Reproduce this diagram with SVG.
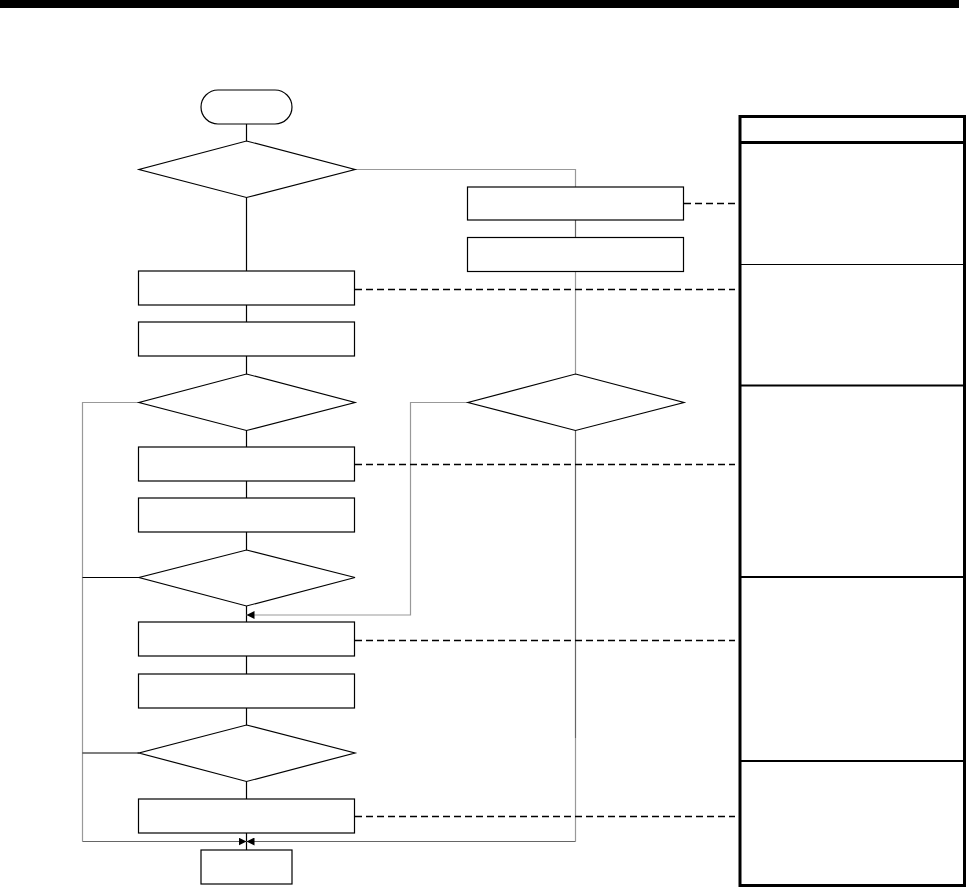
<svg xmlns="http://www.w3.org/2000/svg" width="968" height="888" viewBox="0 0 968 888">
<style>
.box{fill:#fff;stroke:#000;stroke-width:1.2}
.ln{fill:none;stroke:#000;stroke-width:1.2}
.gr{fill:none;stroke:#999;stroke-width:1.2}
.dg{fill:none;stroke:#666;stroke-width:1.2}
.ds{fill:none;stroke:#000;stroke-width:1.4;stroke-dasharray:7 4}
.pn{fill:none;stroke:#000;stroke-width:3}
</style>
<defs>
<marker id="ah" viewBox="0 0 8 8" refX="8" refY="4" markerWidth="8" markerHeight="8" markerUnits="userSpaceOnUse" orient="auto">
<path d="M0,0 L8,4 L0,8 Z" fill="#000"/>
</marker>
</defs>
<rect x="0" y="0" width="959" height="8" fill="#000"/>
<g id="connectors">
<line class="ln" x1="246.5" y1="124" x2="246.5" y2="141"/>
<line class="ln" x1="246.5" y1="197" x2="246.5" y2="271"/>
<line class="ln" x1="246.5" y1="305" x2="246.5" y2="322"/>
<line class="ln" x1="246.5" y1="356" x2="246.5" y2="374"/>
<line class="ln" x1="246.5" y1="430" x2="246.5" y2="447"/>
<line class="ln" x1="246.5" y1="481" x2="246.5" y2="498"/>
<line class="ln" x1="246.5" y1="532" x2="246.5" y2="550"/>
<line class="ln" x1="246.5" y1="606" x2="246.5" y2="622"/>
<line class="ln" x1="246.5" y1="656" x2="246.5" y2="674"/>
<line class="ln" x1="246.5" y1="708" x2="246.5" y2="725"/>
<line class="ln" x1="246.5" y1="781" x2="246.5" y2="799"/>
<line class="ln" x1="246.5" y1="833" x2="246.5" y2="850"/>
<polyline class="gr" points="355,169.5 575.5,169.5 575.5,187"/>
<line class="dg" x1="575.5" y1="220" x2="575.5" y2="237"/>
<line class="gr" x1="575.5" y1="271" x2="575.5" y2="374"/>
<polyline class="dg" points="575.5,430 575.5,738"/>
<polyline class="gr" points="575.5,738 575.5,841.5"/>
<polyline class="gr" points="139,402.5 82.5,402.5 82.5,841.5"/>
<line class="ln" x1="82.5" y1="577.5" x2="139" y2="577.5"/>
<line class="ln" x1="82.5" y1="753" x2="139" y2="753"/>
<polyline class="gr" points="468,402.5 410.5,402.5 410.5,615 246.5,615" marker-end="url(#ah)"/>
<line class="dg" x1="82.5" y1="841.5" x2="246.5" y2="841.5" marker-end="url(#ah)"/>
<line class="dg" x1="575.5" y1="841.5" x2="246.5" y2="841.5" marker-end="url(#ah)"/>
<line class="ds" x1="684" y1="203.5" x2="735" y2="203.5"/>
<line class="ds" x1="355" y1="289.5" x2="735" y2="289.5"/>
<line class="ds" x1="355" y1="464.5" x2="735" y2="464.5"/>
<line class="ds" x1="355" y1="640.5" x2="735" y2="640.5"/>
<line class="ds" x1="355" y1="816.5" x2="735" y2="816.5"/>
</g>
<g id="start"><rect class="box" x="201" y="90" width="91" height="34" rx="17"/></g>
<g id="d1"><polygon class="box" points="246.5,141 355,169.5 246.5,197.5 139,169.5"/></g>
<g id="r1"><rect class="box" x="138.5" y="271" width="216" height="34"/></g>
<g id="r2"><rect class="box" x="138.5" y="322" width="216" height="34"/></g>
<g id="d2"><polygon class="box" points="246.5,374 355,402.5 246.5,430.5 139,402.5"/></g>
<g id="r3"><rect class="box" x="138.5" y="447" width="216" height="34"/></g>
<g id="r4"><rect class="box" x="138.5" y="498" width="216" height="34"/></g>
<g id="d3"><polygon class="box" points="246.5,550 355,577.5 246.5,606 139,577.5"/></g>
<g id="r5"><rect class="box" x="138.5" y="622" width="216" height="34"/></g>
<g id="r6"><rect class="box" x="138.5" y="674" width="216" height="34"/></g>
<g id="d4"><polygon class="box" points="246.5,725 355,753 246.5,781.5 139,753"/></g>
<g id="r7"><rect class="box" x="138.5" y="799" width="216" height="34"/></g>
<g id="end"><rect class="box" x="201" y="850" width="91" height="34"/></g>
<g id="rr1"><rect class="box" x="467.5" y="187" width="216" height="33"/></g>
<g id="rr2"><rect class="box" x="467.5" y="237.5" width="216" height="34"/></g>
<g id="rd1"><polygon class="box" points="575.5,374 684,402.5 575.5,430.5 468,402.5"/></g>
<g id="panel">
<rect class="pn" x="740" y="116.5" width="224.5" height="769"/>
<line stroke="#000" stroke-width="3" x1="740" y1="142.5" x2="964.5" y2="142.5"/>
<line stroke="#000" stroke-width="1.2" x1="740" y1="264.5" x2="964.5" y2="264.5"/>
<line stroke="#000" stroke-width="2" x1="740" y1="385.5" x2="964.5" y2="385.5"/>
<line stroke="#000" stroke-width="2" x1="740" y1="577" x2="964.5" y2="577"/>
<line stroke="#000" stroke-width="2" x1="740" y1="761" x2="964.5" y2="761"/>
</g>
</svg>
